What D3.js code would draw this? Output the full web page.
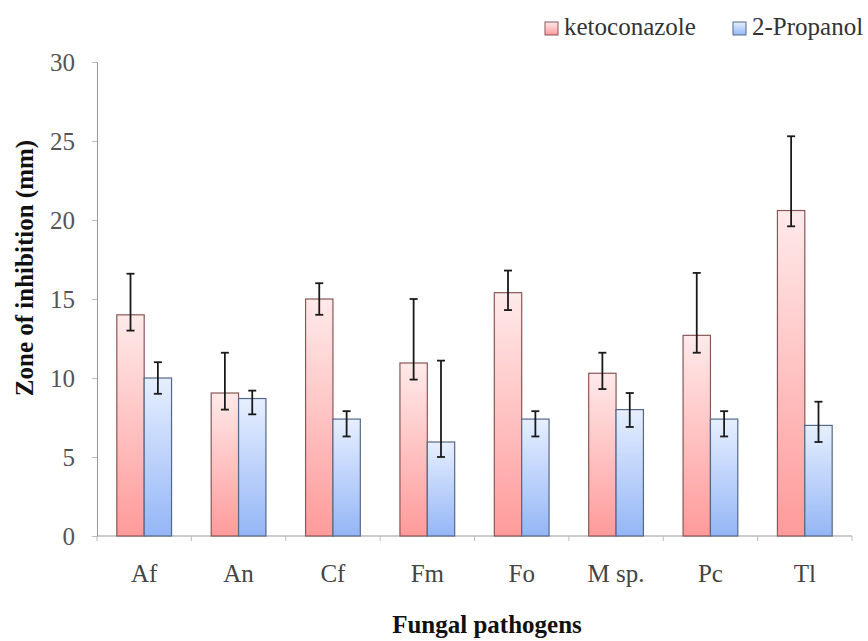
<!DOCTYPE html>
<html>
<head>
<meta charset="utf-8">
<script src="https://cdn.jsdelivr.net/npm/d3@7"></script>
<style>
  html, body { margin: 0; padding: 0; background: #fff; }
  svg { display: block; }
  svg text { font-family: "Liberation Serif", "Times New Roman", "DejaVu Serif", serif; }
</style>
</head>
<body>
<svg id="chart" width="868" height="641"></svg>
<script>
const categories = ["Af", "An", "Cf", "Fm", "Fo", "M sp.", "Pc", "Tl"];
const seriesNames = ["ketoconazole", "2-Propanol"];
const ketoconazole = [14.0, 9.05, 15.0, 10.95, 15.4, 10.3, 12.7, 20.6];
const ketoUpper    = [16.6, 11.6, 16.0, 15.0, 16.8, 11.6, 16.65, 25.3];
const ketoLower    = [13.0, 8.0, 14.0, 9.9, 14.3, 9.3, 11.6, 19.6];
const propanol     = [10.0, 8.7, 7.4, 5.95, 7.4, 8.0, 7.4, 7.0];
const propUpper    = [11.0, 9.2, 7.9, 11.1, 7.9, 9.05, 7.9, 8.5];
const propLower    = [9.0, 7.7, 6.3, 5.0, 6.3, 6.9, 6.3, 5.95];
const yTicks = [0, 5, 10, 15, 20, 25, 30];

const svg = d3.select("#chart");
const margin = { left: 97, right: 16, top: 62, bottom: 105 };
const W = 868, H = 641;

const x0 = d3.scaleBand().domain(categories).range([margin.left, W - margin.right]).paddingInner(0.42).paddingOuter(0.21);
const x1 = d3.scaleBand().domain(seriesNames).range([0, x0.bandwidth()]);
const y = d3.scaleLinear().domain([0, 30]).range([H - margin.bottom, margin.top]);

const defs = svg.append("defs");
const gradK = defs.append("linearGradient").attr("id", "gk").attr("x1", 0).attr("y1", 0).attr("x2", 0).attr("y2", 1);
gradK.append("stop").attr("offset", "0%").attr("stop-color", "#ffeaea");
gradK.append("stop").attr("offset", "100%").attr("stop-color", "#ff9a9a");
const gradP = defs.append("linearGradient").attr("id", "gp").attr("x1", 0).attr("y1", 0).attr("x2", 0).attr("y2", 1);
gradP.append("stop").attr("offset", "0%").attr("stop-color", "#e6efff");
gradP.append("stop").attr("offset", "100%").attr("stop-color", "#94b6f6");

const fills = ["url(#gk)", "url(#gp)"];
const strokes = ["#8a5656", "#56688a"];

const rows = categories.map((c, i) => ({
  cat: c,
  vals: [
    { s: seriesNames[0], v: ketoconazole[i], hi: ketoUpper[i], lo: ketoLower[i] },
    { s: seriesNames[1], v: propanol[i], hi: propUpper[i], lo: propLower[i] }
  ]
}));

// Y axis
const yAxis = d3.axisLeft(y).tickValues(yTicks).tickSize(5).tickPadding(17);
const gy = svg.append("g").attr("transform", `translate(${margin.left},0)`).call(yAxis);
gy.attr("font-family", null).attr("font-size", null);
gy.select(".domain").attr("stroke", "#999");
gy.selectAll(".tick line").attr("stroke", "#bbb");
gy.selectAll(".tick text").attr("font-size", 25).attr("fill", "#555").attr("dy", "0.34em");

// X axis line + boundary ticks
const xAxisY = y(0);
svg.append("line").attr("x1", margin.left).attr("x2", W - margin.right).attr("y1", xAxisY).attr("y2", xAxisY).attr("stroke", "#999");
const bounds = categories.map(c => x0(c) - x0.step() * x0.paddingInner() / 2);
bounds.push(W - margin.right);
svg.selectAll(".xtick").data(bounds).enter().append("line")
  .attr("x1", d => d).attr("x2", d => d).attr("y1", xAxisY).attr("y2", xAxisY + 5).attr("stroke", "#bbb");

svg.selectAll(".xlabel").data(categories).enter().append("text")
  .attr("x", d => x0(d) + x0.bandwidth() / 2)
  .attr("y", 582)
  .attr("text-anchor", "middle")
  .attr("font-size", 25).attr("fill", "#444")
  .text(d => d);

// Bars
const groups = svg.selectAll(".grp").data(rows).enter().append("g")
  .attr("transform", d => `translate(${x0(d.cat)},0)`);
groups.selectAll("rect").data(d => d.vals).enter().append("rect")
  .attr("x", d => x1(d.s))
  .attr("width", x1.bandwidth())
  .attr("y", d => y(d.v))
  .attr("height", d => y(0) - y(d.v))
  .attr("fill", (d, i) => fills[i])
  .attr("stroke", (d, i) => strokes[i])
  .attr("stroke-width", 1.2);

// Error bars
const eb = groups.selectAll(".eb").data(d => d.vals).enter().append("g")
  .attr("stroke", "#1a1a1a").attr("stroke-width", 1.8);
eb.append("line")
  .attr("x1", d => x1(d.s) + x1.bandwidth() / 2).attr("x2", d => x1(d.s) + x1.bandwidth() / 2)
  .attr("y1", d => y(d.hi)).attr("y2", d => y(d.lo));
eb.append("line")
  .attr("x1", d => x1(d.s) + x1.bandwidth() / 2 - 4).attr("x2", d => x1(d.s) + x1.bandwidth() / 2 + 4)
  .attr("y1", d => y(d.hi)).attr("y2", d => y(d.hi));
eb.append("line")
  .attr("x1", d => x1(d.s) + x1.bandwidth() / 2 - 4).attr("x2", d => x1(d.s) + x1.bandwidth() / 2 + 4)
  .attr("y1", d => y(d.lo)).attr("y2", d => y(d.lo));

// Axis titles
svg.append("text")
  .attr("transform", `translate(33,268) rotate(-90)`)
  .attr("text-anchor", "middle")
  .attr("font-size", 25).attr("font-weight", "bold").attr("fill", "#111")
  .text("Zone of inhibition (mm)");
svg.append("text")
  .attr("x", 487).attr("y", 633)
  .attr("text-anchor", "middle")
  .attr("font-size", 25).attr("font-weight", "bold").attr("fill", "#111")
  .text("Fungal pathogens");

// Legend
const legendX = [545, 733];
const lg = svg.selectAll(".lg").data(seriesNames).enter().append("g")
  .attr("transform", (d, i) => `translate(${legendX[i]},0)`);
lg.append("rect").attr("x", 0).attr("y", 22).attr("width", 13).attr("height", 13)
  .attr("fill", (d, i) => fills[i]).attr("stroke", (d, i) => strokes[i]);
lg.append("text").attr("x", 19).attr("y", 35)
  .attr("font-size", 25).attr("fill", "#333")
  .text(d => d);
</script>
</body>
</html>
